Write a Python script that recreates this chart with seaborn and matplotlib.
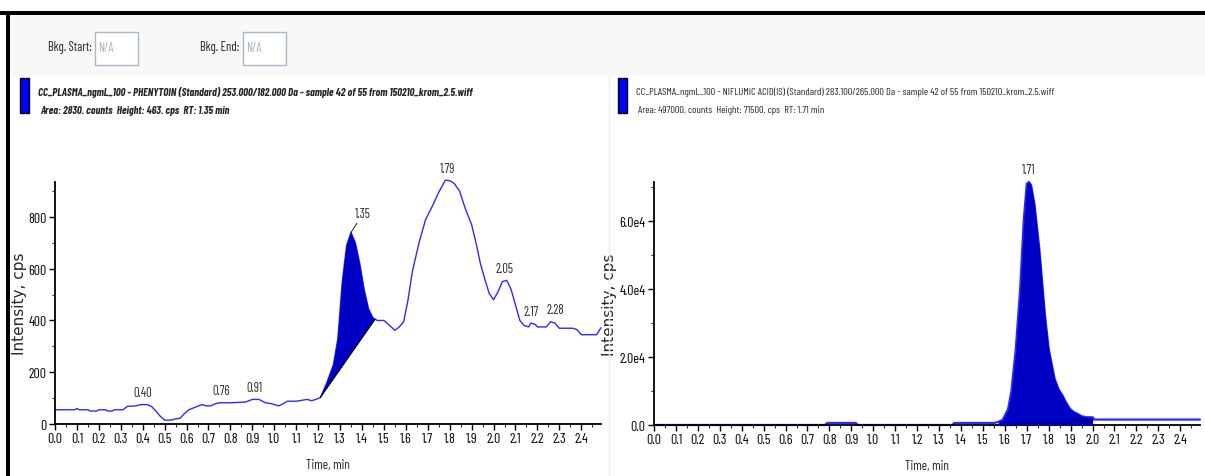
import numpy as np
import matplotlib
matplotlib.use("Agg")
import matplotlib.pyplot as plt
import seaborn as sns
from matplotlib.patches import Rectangle
from matplotlib.ticker import MultipleLocator, FuncFormatter

# phenytoin trace (left panel)
phen_time = [0.00, 0.05, 0.09, 0.10, 0.11, 0.15, 0.16, 0.19, 0.20, 0.23, 0.24, 0.26, 0.27,
             0.31, 0.33, 0.37, 0.39, 0.42, 0.44, 0.46, 0.48, 0.50, 0.53, 0.55, 0.57, 0.59,
             0.61, 0.64, 0.67, 0.69, 0.71, 0.73, 0.75, 0.80, 0.87, 0.90, 0.93, 0.96, 0.99,
             1.02, 1.04, 1.06, 1.10, 1.15, 1.17, 1.19, 1.21, 1.24, 1.27, 1.29, 1.31, 1.33,
             1.35, 1.37, 1.39, 1.41, 1.43, 1.45, 1.46, 1.47, 1.50, 1.52, 1.55, 1.57, 1.59,
             1.61, 1.63, 1.66, 1.69, 1.72, 1.75, 1.78, 1.80, 1.82, 1.845, 1.87, 1.90, 1.92,
             1.94, 1.96, 1.98, 2.00, 2.02, 2.04, 2.06, 2.08, 2.10, 2.12, 2.14, 2.16, 2.17,
             2.19, 2.20, 2.24, 2.26, 2.28, 2.30, 2.36, 2.38, 2.40, 2.47, 2.49]
phen_int = [55, 55, 55, 60, 55, 55, 50, 50, 55, 55, 50, 50, 55,
            55, 68, 70, 75, 75, 68, 50, 30, 15, 15, 20, 22, 40,
            55, 65, 75, 70, 70, 78, 82, 82, 85, 95, 95, 82, 78,
            70, 78, 88, 88, 95, 90, 95, 102, 160, 230, 330, 550, 690,
            740, 700, 620, 520, 445, 410, 405, 400, 400, 385, 362, 375, 395,
            480, 590, 700, 790, 840, 895, 942, 940, 930, 900, 835, 770, 700,
            620, 560, 505, 480, 510, 550, 555, 520, 460, 400, 380, 375, 390,
            385, 375, 375, 395, 390, 370, 370, 365, 345, 345, 372]
phen_base_time = [1.21, 1.46]
phen_base_int = [102, 405]
phen_peaks = [0.40, 0.76, 0.91, 1.35, 1.79, 2.05, 2.17, 2.28]
phen_peak_int = [75, 82, 95, 740, 942, 555, 390, 395]

# niflumic acid trace (right panel)
nif_time = [0.00, 0.78, 0.79, 0.92, 0.93, 1.36, 1.37, 1.55, 1.57, 1.59, 1.60, 1.615, 1.63,
            1.65, 1.67, 1.686, 1.70, 1.71, 1.72, 1.735, 1.757, 1.783, 1.80, 1.827, 1.845,
            1.863, 1.88, 1.898, 1.915, 1.933, 1.95, 1.97, 2.00, 2.01, 2.49]
nif_int = [0, 0, 600, 600, 0, 0, 600, 600, 900, 1500, 2800, 4700, 10000,
           22400, 40200, 60000, 71000, 71500, 70500, 65000, 52000, 32300, 22400, 13600, 10500,
           8700, 6500, 4700, 3800, 3250, 2600, 2300, 2270, 1600, 1600]
nif_base_time = [1.53, 1.65, 1.65, 1.89, 1.89, 2.00]
nif_base_int = [0, 0, 800, 800, 1600, 1600]
nif_peaks = [1.71]
nif_peak_int = [71500]

left_title = "CC_PLASMA_ngmL_100 - PHENYTOIN (Standard) 253.000/182.000 Da - sample 42 of 55 from 150210_krom_2.5.wiff"
left_info = "Area: 2830. counts  Height: 463. cps  RT: 1.35 min"
right_title = "CC_PLASMA_ngmL_100 - NIFLUMIC ACID(IS) (Standard) 283.100/265.000 Da - sample 42 of 55 from 150210_krom_2.5.wiff"
right_info = "Area: 497000. counts  Height: 71500. cps  RT: 1.71 min"

sns.set_style("white")
plt.rcParams["font.family"] = ["Barlow Condensed", "DejaVu Sans"]

W, H = 1205, 477
fig = plt.figure(figsize=(W / 100, H / 100), dpi=100)


def fx(px):
    return px / W


def fy(py):
    return 1 - py / H


# window chrome
fig.patches.append(Rectangle((fx(10), fy(77)), fx(1195), (77 - 16) / H, transform=fig.transFigure,
                             facecolor="#f8f8f8", edgecolor="none", zorder=0))
fig.patches.append(Rectangle((0, fy(16)), 1, 4 / H, transform=fig.transFigure,
                             facecolor="black", edgecolor="none", zorder=5))
fig.patches.append(Rectangle((fx(6), 0), 4 / W, fy(12), transform=fig.transFigure,
                             facecolor="black", edgecolor="none", zorder=5))
fig.add_artist(plt.Line2D([fx(609), fx(609)], [0, fy(78)], transform=fig.transFigure,
                          color="#eeeeee", lw=1))
for lab, tx, bx in [("Bkg. Start:", 48, 95), ("Bkg. End:", 200, 243)]:
    fig.text(fx(tx), fy(48), lab, fontsize=9, va="center", ha="left", color="#222222")
    fig.patches.append(Rectangle((fx(bx), fy(66)), 43 / W, 33 / H, transform=fig.transFigure,
                                 facecolor="white", edgecolor="#a8b8cc", lw=1, zorder=1))
    fig.text(fx(bx + 3), fy(48), "N/A", fontsize=9, va="center", ha="left", color="#b0b0b0")

# headers
for mx, tx, title, info, style, weight, fs in [
        (20, 38, left_title, left_info, "italic", 700, 7.9),
        (618, 636, right_title, right_info, "normal", 400, 7.5)]:
    fig.patches.append(Rectangle((fx(mx), fy(114)), 9 / W, 35 / H, transform=fig.transFigure,
                                 facecolor="#0000ff", edgecolor="black", lw=1, zorder=2))
    fig.text(fx(tx), fy(92), title, fontsize=fs, style=style, weight=weight, va="center")
    fig.text(fx(tx + 2), fy(111), info, fontsize=fs, style=style, weight=weight, va="center")

ax1 = fig.add_axes([fx(55), fy(425), (601 - 55) / W, (425 - 183) / H])
ax2 = fig.add_axes([fx(654), fy(426), (1200 - 654) / W, (426 - 183) / H])

line_col = "#2b2bff"
fill_col = "#0000c4"

sns.lineplot(x=phen_time, y=phen_int, ax=ax1, color=line_col, lw=1, estimator=None, sort=False)
sel = [(t, v) for t, v in zip(phen_time, phen_int) if phen_base_time[0] <= t <= phen_base_time[1]]
poly_t = [phen_base_time[0]] + [p[0] for p in sel] + [phen_base_time[1]]
poly_v = [phen_base_int[0]] + [p[1] for p in sel] + [phen_base_int[1]]
ax1.fill(poly_t, poly_v, color=fill_col, lw=0, zorder=3)
ax1.plot(phen_base_time, phen_base_int, color="black", lw=0.8, zorder=4)

sns.lineplot(x=nif_time, y=nif_int, ax=ax2, color=line_col, lw=1.6, estimator=None, sort=False)
nt = np.array(nif_time)
ni = np.array(nif_int)
m = (nt >= 1.56) & (nt <= 2.005)
ax2.fill_between(nt[m], 0, ni[m], color=fill_col, lw=0, zorder=3)
ax2.plot(nif_base_time, nif_base_int, color="black", lw=1, ls=(0, (1, 1.5)), zorder=4)

for t, v in zip(phen_peaks, phen_peak_int):
    if t == 1.35:
        ax1.annotate(f"{t:.2f}", (t, v), xytext=(3, 9), textcoords="offset points",
                     fontsize=9, ha="left", va="bottom", annotation_clip=False,
                     arrowprops=dict(arrowstyle="-", lw=0.6, color="black", shrinkA=0, shrinkB=0))
    else:
        ax1.annotate(f"{t:.2f}", (t, v), xytext=(0, 4), textcoords="offset points",
                     fontsize=9, ha="center", va="bottom", annotation_clip=False)
for t, v in zip(nif_peaks, nif_peak_int):
    ax2.annotate(f"{t:.2f}", (t, v), xytext=(0, 4), textcoords="offset points",
                 fontsize=9, ha="center", va="bottom", annotation_clip=False)

ax1.set_ylim(0, 935)
ax2.set_ylim(0, 71500)
ax1.yaxis.set_major_locator(MultipleLocator(200))
ax1.yaxis.set_minor_locator(MultipleLocator(100))
ax2.yaxis.set_major_locator(MultipleLocator(20000))
ax2.yaxis.set_minor_locator(MultipleLocator(10000))
ax2.yaxis.set_major_formatter(FuncFormatter(lambda v, p: f"{v / 1e4:.1f}e4" if v else "0.0"))

for ax in (ax1, ax2):
    ax.set_xlim(0, 2.49)
    ax.xaxis.set_major_locator(MultipleLocator(0.1))
    ax.xaxis.set_minor_locator(MultipleLocator(0.05))
    ax.xaxis.set_major_formatter(FuncFormatter(lambda v, p: f"{v:.1f}"))
    ax.set_facecolor("none")
    for s in ("top", "right"):
        ax.spines[s].set_visible(False)
    for s in ("left", "bottom"):
        ax.spines[s].set_color("black")
        ax.spines[s].set_linewidth(1.3)
    ax.tick_params(which="major", direction="out", length=4, width=1, labelsize=10, pad=2,
                   left=True, bottom=True, colors="black")
    ax.tick_params(which="minor", direction="out", length=2.5, width=0.8, left=True, bottom=True)
    ax.set_xlabel("Time, min", fontsize=9.5, labelpad=9)
    ax.set_ylabel("Intensity, cps", fontsize=11, family="DejaVu Sans", labelpad=4)
    for line in ax.lines:
        line.set_clip_on(False)

ax1.yaxis.set_label_coords(-(55 - 27) / (601 - 55), 0.5)
ax2.yaxis.set_label_coords(-(654 - 617) / (1200 - 654), 0.5)

fig.savefig("out.png", dpi=100)
